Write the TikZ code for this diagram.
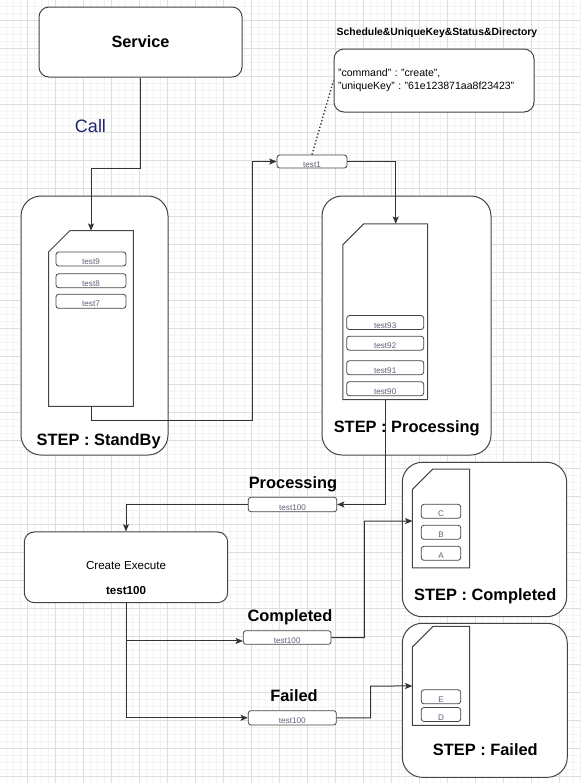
\documentclass[tikz,border=0pt]{standalone}
\usepackage{fontspec}
\setmainfont{Liberation Sans}
\usetikzlibrary{arrows.meta}
\definecolor{edge}{RGB}{68,68,68}
\definecolor{lineclr}{RGB}{51,51,51}
\definecolor{itemtxt}{RGB}{96,96,120}
\definecolor{callc}{RGB}{30,36,110}
\definecolor{gridmaj}{RGB}{222,222,222}
\definecolor{gridmin}{RGB}{243,243,243}
\newcommand\drawdoc[2]{\draw[docst] (#1.south west) -- (#1.south east) -- (#1.north east) -- ([xshift=#2]#1.north west) -- ([yshift=-#2]#1.north west) -- cycle;}
\frenchspacing
\begin{document}
\begin{tikzpicture}[x=0.75pt,y=-0.75pt,
  conn/.style={draw=lineclr, line width=0.75pt},
  arr/.style={conn, -{Stealth[length=5.5pt,width=4.5pt,inset=1.2pt]}},
  wbox/.style={draw=edge, fill=white, line width=0.75pt, rounded corners=7.5pt, inner sep=0pt},
  cont/.style={draw=edge, fill=white, line width=0.75pt, rounded corners=15pt, inner sep=0pt},
  docst/.style={draw=edge, fill=white, line width=0.75pt},
  docnode/.style={inner sep=0pt, draw=none},
  item/.style={draw=edge, fill=white, line width=0.6pt, rounded corners=2pt, inner sep=0pt,
    font=\fontsize{6.1}{7}\selectfont, text=itemtxt, text height=8.4pt, text depth=0pt, minimum height=10.5pt},
  biglab/.style={font=\fontsize{12.3}{14}\selectfont\bfseries, inner sep=0pt, text height=8.9pt, text depth=0pt}
]
\useasboundingbox (0,0) rectangle (581,783);
% background grid
\fill[white] (0,0) rectangle (581,783);
\begin{scope}
\clip (0,0) rectangle (581,783);
\foreach \k in {0,...,84} \draw[gridmin,line width=0.75pt] ({\k*7-0.7},0) -- ({\k*7-0.7},783);
\foreach \k in {0,...,112} \draw[gridmin,line width=0.75pt] (0,{\k*7-1}) -- (581,{\k*7-1});
\foreach \k in {0,...,20} \draw[gridmaj,line width=0.75pt] ({\k*28+27.3},0) -- ({\k*28+27.3},783);
\foreach \k in {0,...,27} \draw[gridmaj,line width=0.75pt] (0,{\k*28+20}) -- (581,{\k*28+20});
\end{scope}

% Service
\node[wbox, minimum width=152.25pt, minimum height=52.5pt, font=\fontsize{12.2}{14}\selectfont\bfseries, text height=8.8pt, text depth=0pt] (service) at (140.5,42) {Service};
\node[font=\fontsize{13.5}{16}\selectfont, text=callc, inner sep=0pt] (call) at (90.5,126) {Call};

% note
\node[font=\fontsize{7.8}{9}\selectfont\bfseries, inner sep=0pt] (title) at (437,33) {Schedule\&UniqueKey\&Status\&Directory};
\node[wbox, minimum width=150pt, minimum height=47.25pt, text width=144pt, align=left, inner xsep=3pt, font=\fontsize{7.9}{9.75}\selectfont] (note) at (434,80.5) {"command" : "create",\\"uniqueKey" : "61e123871aa8f23423"};

% StandBy
\node[cont, minimum width=110.25pt, minimum height=194.25pt] (sb) at (94.5,325.5) {};
\node[biglab] (sblab) at (98.7,440) {STEP : StandBy};
\node[docnode, minimum width=63pt, minimum height=131.25pt] (sbdoc) at (91,318.5) {};
\drawdoc{sbdoc}{15.75pt}
\node[item, minimum width=52.5pt] (t9) at (91,259) {test9};
\node[item, minimum width=52.5pt] (t8) at (91,280.7) {test8};
\node[item, minimum width=52.5pt] (t7) at (91,301.3) {test7};

% test1
\node[item, minimum width=52.5pt, minimum height=9.75pt] (test1) at (312,161.5) {test1};

% Processing
\node[cont, minimum width=126.75pt, minimum height=194.25pt] (pr) at (406.5,325.5) {};
\node[biglab] (prlab) at (406.7,427) {STEP : Processing};
\node[docnode, minimum width=63.2pt, minimum height=131.5pt] (prdoc) at (385.2,311.7) {};
\drawdoc{prdoc}{15.75pt}
\node[item, minimum width=57.75pt] (t93) at (385.2,322.5) {test93};
\node[item, minimum width=57.75pt] (t92) at (385.2,343.2) {test92};
\node[item, minimum width=57.75pt] (t91) at (385.2,367.7) {test91};
\node[item, minimum width=57.75pt] (t90) at (385.2,388.7) {test90};

% transitions
\node[item, minimum width=66.3pt, minimum height=10.8pt] (pbox) at (292.5,504.5) {test100};
\node[biglab] (plab) at (293,483) {Processing};
\node[wbox, minimum width=152.5pt, minimum height=53pt, font=\fontsize{8.7}{10.5}\selectfont] (ce) at (126,567.3)
  {\raisebox{-11pt}[5pt][5pt]{\begin{tabular}{@{}c@{}}Create Execute\\[8.25pt]\textbf{test100}\end{tabular}}};
\node[item, minimum width=65.8pt, minimum height=10.2pt] (cbox) at (287.2,637.5) {test100};
\node[biglab] (clab) at (290,616) {Completed};
\node[item, minimum width=66pt, minimum height=10.7pt] (fbox) at (292.3,717.8) {test100};
\node[biglab] (flab) at (294,696) {Failed};

% Completed
\node[cont, minimum width=123.3pt, minimum height=115.8pt] (cc) at (484.5,539.5) {};
\node[biglab] (cclab) at (485.3,595) {STEP : Completed};
\node[docnode, minimum width=42.45pt, minimum height=73.8pt] (cdoc) at (441,518.5) {};
\drawdoc{cdoc}{15.3pt}
\node[item, minimum width=29.55pt] (iC) at (441,511.3) {C};
\node[item, minimum width=29.55pt] (iB) at (441,532.3) {B};
\node[item, minimum width=29.55pt] (iA) at (441,553.3) {A};

% Failed
\node[cont, minimum width=123.75pt, minimum height=115.5pt] (fc) at (484.8,700.3) {};
\node[biglab] (fclab) at (485.3,749.3) {STEP : Failed};
\node[docnode, minimum width=42.45pt, minimum height=73.7pt] (fdoc) at (441,675.85) {};
\drawdoc{fdoc}{15.3pt}
\node[item, minimum width=29.55pt] (iE) at (441,696.8) {E};
\node[item, minimum width=29.55pt] (iD) at (441,714.5) {D};

% connectors
\draw[arr] (service.south) -- ++(0,91) -| (sbdoc.north);
\draw[arr] (sbdoc.south) |- (252,420) |- (test1.west);
\draw[conn, line width=1pt, dash pattern=on 1pt off 1.6pt] (test1.north) -- (note.west);
\draw[arr] (test1.east) -| ([xshift=7.9pt]prdoc.north);
\draw[arr] (prdoc.south) |- (pbox.east);
\draw[arr] (pbox.west) -| (ce.north);
\draw[arr] (ce.south) |- ([yshift=-2.6pt]cbox.west);
\draw[arr] (ce.south) |- (fbox.west);
\draw[arr] (cbox.east) -| (364.3,521) -- ([yshift=-1.9pt]cdoc.west);
\draw[arr] (fbox.east) -| (370.7,686) -- ([yshift=-7.6pt]fdoc.west);
\end{tikzpicture}
\end{document}
